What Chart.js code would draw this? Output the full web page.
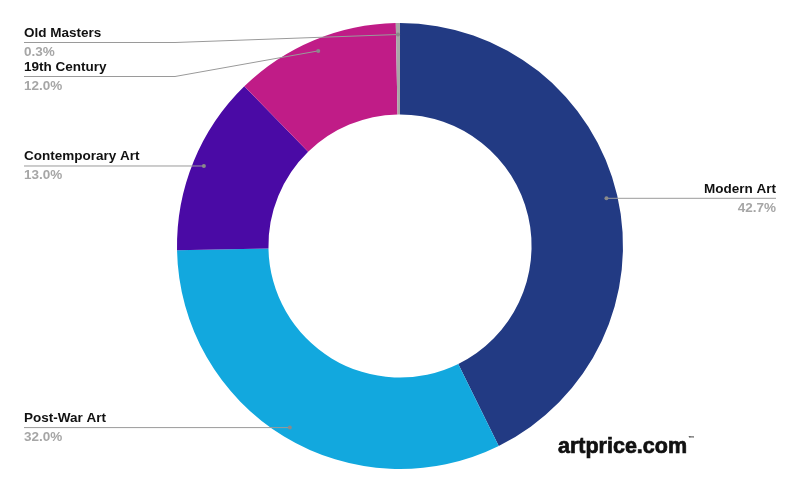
<!DOCTYPE html>
<html>
<head>
<meta charset="utf-8">
<script src="https://cdn.jsdelivr.net/npm/chart.js@4"></script>
<style>
  html, body { margin: 0; padding: 0; background: #ffffff; }
  #wrap { position: relative; width: 800px; height: 495px; }
  #logo { position: absolute; left: 558px; top: 434px; font-family: "Liberation Sans", Arial, sans-serif; font-weight: 900; font-size: 21.5px; color: #111; letter-spacing: 0; -webkit-text-stroke: 0.7px #111; }
  #logo sup { font-size: 6px; position: relative; top: -5px; margin-left: 1px; -webkit-text-stroke: 0; }
</style>
</head>
<body>
<div id="wrap">
  <canvas id="c" width="800" height="495"></canvas>
  <div id="logo">artprice.com<sup>™</sup></div>
</div>
<script>
const categories = ["Modern Art", "Post-War Art", "Contemporary Art", "19th Century", "Old Masters"];
const values = [42.7, 32.0, 13.0, 12.0, 0.3];
const percentLabels = ["42.7%", "32.0%", "13.0%", "12.0%", "0.3%"];
const colors = ["#223a83", "#12a8de", "#4a0aa5", "#c01c87", "#a8a8a8"];

const leaderPlugin = {
  id: 'leaders',
  afterDatasetsDraw(chart) {
    const ctx = chart.ctx;
    const meta = chart.getDatasetMeta(0);
    const items = meta.data.map((arc, i) => {
      const p = arc.getProps(['x', 'y', 'startAngle', 'endAngle', 'outerRadius'], true);
      const mid = (p.startAngle + p.endAngle) / 2;
      const r = p.outerRadius - 11;
      return { i, ax: p.x + r * Math.cos(mid), ay: p.y + r * Math.sin(mid), right: Math.cos(mid) > 0 };
    });
    const place = (list) => {
      list.sort((a, b) => a.ay - b.ay);
      let prev = -Infinity;
      list.forEach(it => {
        it.ly = Math.max(it.ay, prev + 34, 42);
        prev = it.ly;
      });
    };
    const left = items.filter(it => !it.right);
    const right = items.filter(it => it.right);
    place(left); place(right);
    ctx.save();
    items.forEach(it => {
      const textX = it.right ? 776 : 24;
      const elbowX = it.right ? 625 : 175;
      ctx.strokeStyle = '#9a9a9a';
      ctx.lineWidth = 1;
      ctx.beginPath();
      ctx.moveTo(textX, it.ly + 0.5);
      if (Math.abs(it.ly - it.ay) > 0.5) {
        ctx.lineTo(elbowX, it.ly + 0.5);
      }
      ctx.lineTo(it.ax, it.ay + 0.5);
      ctx.stroke();
      ctx.fillStyle = '#8a8a8a';
      ctx.beginPath();
      ctx.arc(it.ax, it.ay + 0.5, 2, 0, Math.PI * 2);
      ctx.fill();
      ctx.textAlign = it.right ? 'right' : 'left';
      ctx.textBaseline = 'middle';
      ctx.font = 'bold 13.5px "Liberation Sans", Arial, sans-serif';
      ctx.fillStyle = '#111111';
      ctx.fillText(categories[it.i], textX, it.ly - 9);
      ctx.fillStyle = '#a6a6a6';
      ctx.fillText(percentLabels[it.i], textX, it.ly + 10);
    });
    ctx.restore();
  }
};

new Chart(document.getElementById('c'), {
  type: 'doughnut',
  data: {
    labels: categories,
    datasets: [{
      data: values,
      backgroundColor: colors,
      borderWidth: 0
    }]
  },
  options: {
    responsive: false,
    animation: false,
    cutout: '59%',
    layout: { padding: { top: 23, bottom: 26, left: 0, right: 0 } },
    plugins: { legend: { display: false }, tooltip: { enabled: false } }
  },
  plugins: [leaderPlugin]
});
</script>
</body>
</html>
